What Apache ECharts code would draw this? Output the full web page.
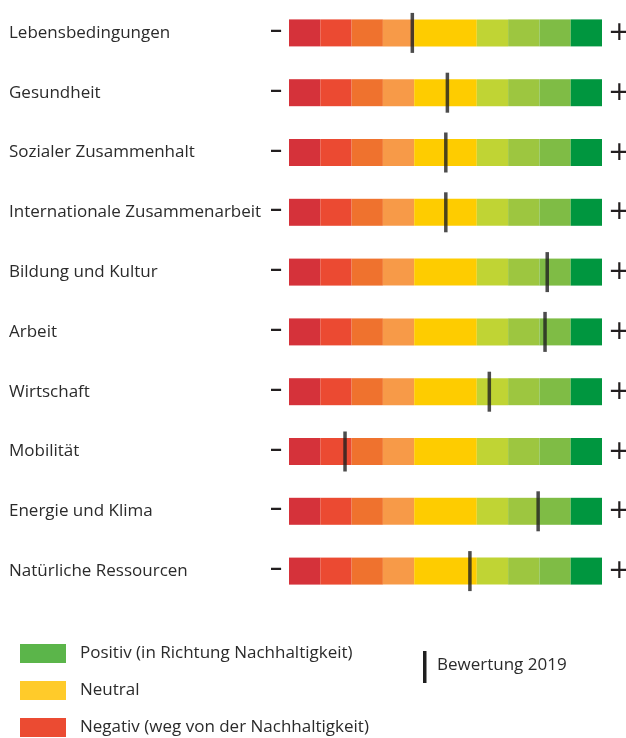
<!DOCTYPE html>
<html><head><meta charset="utf-8">
<script src="https://cdn.jsdelivr.net/npm/echarts@6/dist/echarts.min.js"></script>
<style>html,body{margin:0;padding:0;background:#fff}#c{width:626px;height:738px}</style>
</head><body><div id="c"></div>
<script>
var categories = ["Lebensbedingungen","Gesundheit","Sozialer Zusammenhalt","Internationale Zusammenarbeit","Bildung und Kultur","Arbeit","Wirtschaft","Mobilität","Energie und Klima","Natürliche Ressourcen"];
var ratings2019 = [3.94, 5.06, 5.01, 5.01, 8.25, 8.18, 6.40, 1.79, 7.96, 5.78];
var segmentWidths = [1,1,1,1,2,1,1,1,1];
var segmentColors = ["#D5323A","#EB4A32","#EF722E","#F79A48","#FECC00","#C0D434","#9DC640","#7FBC45","#00963F"];
var legendItems = ["Positiv (in Richtung Nachhaltigkeit)","Neutral","Negativ (weg von der Nachhaltigkeit)"];
var legendColors = ["#5BB54A","#FFCB2A","#EB4B32"];
var markerLabel = "Bewertung 2019";

var FONT = "'Open Sans'";
var series = segmentWidths.map(function(w, i){
  var s = {
    type: 'bar', stack: 'scale', barWidth: 27, silent: true,
    itemStyle: {color: segmentColors[i]},
    data: categories.map(function(){ return w; })
  };
  if (i === 0) s.label = {show: true, position: 'left', distance: 7, formatter: '–', fontSize: 20, fontWeight: 'bold', color: '#231f20', fontFamily: 'Roboto'};
  if (i === segmentWidths.length - 1) s.label = {show: true, position: 'right', distance: 6, formatter: '+', fontSize: 27, color: '#231f20', fontFamily: 'DejaVu Sans', fontWeight: 'normal'};
  return s;
});
series.push({
  type: 'scatter', symbol: 'rect', symbolSize: [3.5, 40], z: 10,
  itemStyle: {color: '#1f1f1f'},
  data: ratings2019
});

var graphic = [];
legendItems.forEach(function(t, i){
  graphic.push({type: 'rect', left: 20, top: 644 + i*37, shape: {width: 46, height: 19}, style: {fill: legendColors[i]}});
  graphic.push({type: 'text', left: 80, top: 645 + i*37, style: {text: t, fontSize: 17, fill: '#2b2b2b', fontFamily: FONT}});
});
graphic.push({type: 'rect', left: 423, top: 651, shape: {width: 3.5, height: 32}, style: {fill: '#1f1f1f'}});
graphic.push({type: 'text', left: 437, top: 657, style: {text: markerLabel, fontSize: 17, fill: '#2b2b2b', fontFamily: FONT}});

var chart = echarts.init(document.getElementById('c'));
chart.setOption({
  animation: false,
  grid: {left: 289, right: 24, top: 3, height: 598},
  xAxis: {type: 'value', min: 0, max: 10, show: false},
  yAxis: {type: 'category', inverse: true, data: categories,
    axisLine: {show: false}, axisTick: {show: false}, splitLine: {show: false},
    axisLabel: {align: 'left', margin: 280, fontSize: 17, color: '#2b2b2b', fontFamily: FONT, padding: [2, 0, 0, 0]}},
  series: series,
  graphic: graphic
});
</script></body></html>
